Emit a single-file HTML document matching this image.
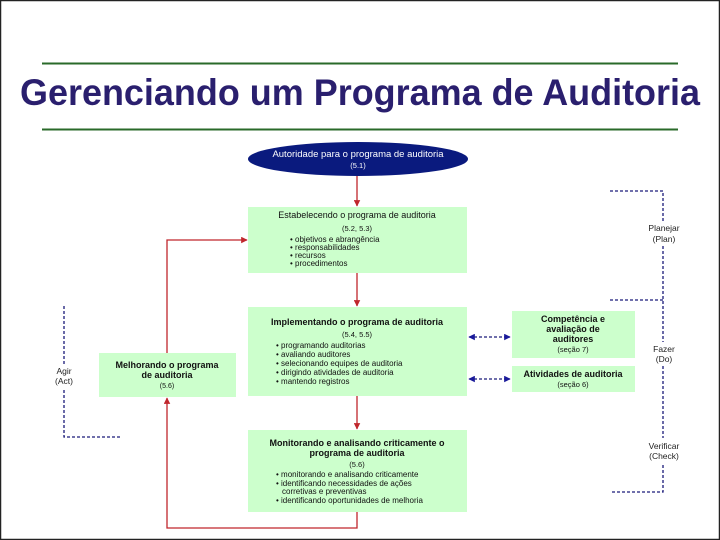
<!DOCTYPE html>
<html><head><meta charset="utf-8"><style>
html,body{margin:0;padding:0;background:#fff}
svg{display:block}
text{font-family:"Liberation Sans",Arial,sans-serif}
</style></head><body>
<svg width="720" height="540" viewBox="0 0 720 540" xmlns="http://www.w3.org/2000/svg">
<defs>
<marker id="ra" viewBox="0 0 10 10" refX="9" refY="5" markerWidth="5" markerHeight="5" orient="auto"><path d="M0,0L10,5L0,10z" fill="#c0262c"/></marker>
<marker id="ba" viewBox="0 0 10 10" refX="9" refY="5" markerWidth="5" markerHeight="5" orient="auto-start-reverse"><path d="M0,0L10,5L0,10z" fill="#1a1a9a"/></marker>
</defs>
<rect x="0.5" y="0.5" width="719" height="539" fill="#fff" stroke="#222" stroke-width="1.5"/>
<line x1="42" y1="63.5" x2="678" y2="63.5" stroke="#2a6a2a" stroke-width="2"/>
<line x1="42" y1="129.5" x2="678" y2="129.5" stroke="#2a6a2a" stroke-width="2"/>
<text x="20" y="105" font-size="37" font-weight="bold" fill="#2a1f6e" textLength="680" lengthAdjust="spacingAndGlyphs">Gerenciando um Programa de Auditoria</text>

<ellipse cx="358" cy="159" rx="110" ry="17" fill="#0a1a7e"/>
<text x="358" y="157" font-size="9.5" fill="#fff" text-anchor="middle">Autoridade para o programa de auditoria</text>
<text x="358" y="168" font-size="7.5" fill="#fff" text-anchor="middle">(5.1)</text>

<g stroke="#c0262c" stroke-width="1.3" fill="none">
<line x1="357" y1="176" x2="357" y2="206" marker-end="url(#ra)"/>
<line x1="357" y1="273" x2="357" y2="306" marker-end="url(#ra)"/>
<line x1="357" y1="396" x2="357" y2="429" marker-end="url(#ra)"/>
<polyline points="357,512 357,528 167,528 167,398" marker-end="url(#ra)"/>
<polyline points="167,353 167,240 247,240" marker-end="url(#ra)"/>
</g>

<g fill="#ccffcc">
<rect x="248" y="207" width="219" height="66"/>
<rect x="248" y="307" width="219" height="89"/>
<rect x="512" y="311" width="123" height="47"/>
<rect x="512" y="366" width="123" height="26"/>
<rect x="99" y="353" width="137" height="44"/>
<rect x="248" y="430" width="219" height="82"/>
</g>

<g font-size="9" fill="#111">
<text x="357" y="218" text-anchor="middle">Estabelecendo o programa de auditoria</text>
<text x="357" y="231" text-anchor="middle" font-size="7.5">(5.2, 5.3)</text>
<g font-size="8">
<text x="290" y="242">• objetivos e abrangência</text>
<text x="290" y="250">• responsabilidades</text>
<text x="290" y="258">• recursos</text>
<text x="290" y="266">• procedimentos</text>
</g>

<text x="357" y="325" text-anchor="middle" font-weight="bold">Implementando o programa de auditoria</text>
<text x="357" y="337" text-anchor="middle" font-size="7.5">(5.4, 5.5)</text>
<g font-size="8">
<text x="276" y="348">• programando auditorias</text>
<text x="276" y="357">• avaliando auditores</text>
<text x="276" y="366">• selecionando equipes de auditoria</text>
<text x="276" y="375">• dirigindo atividades de auditoria</text>
<text x="276" y="384">• mantendo registros</text>
</g>

<text x="573" y="322" text-anchor="middle" font-weight="bold">Competência e</text>
<text x="573" y="332" text-anchor="middle" font-weight="bold">avaliação de</text>
<text x="573" y="342" text-anchor="middle" font-weight="bold">auditores</text>
<text x="573" y="352" text-anchor="middle" font-size="7.5">(seção 7)</text>

<text x="573" y="377" text-anchor="middle" font-weight="bold">Atividades de auditoria</text>
<text x="573" y="387" text-anchor="middle" font-size="7.5">(seção 6)</text>

<text x="167" y="368" text-anchor="middle" font-weight="bold">Melhorando o programa</text>
<text x="167" y="378" text-anchor="middle" font-weight="bold">de auditoria</text>
<text x="167" y="388" text-anchor="middle" font-size="7">(5.6)</text>

<text x="357" y="446" text-anchor="middle" font-weight="bold">Monitorando e analisando criticamente o</text>
<text x="357" y="456" text-anchor="middle" font-weight="bold">programa de auditoria</text>
<text x="357" y="467" text-anchor="middle" font-size="7.5">(5.6)</text>
<g font-size="8">
<text x="276" y="477">• monitorando e analisando criticamente</text>
<text x="276" y="486">• identificando necessidades de ações</text>
<text x="282" y="494">corretivas e preventivas</text>
<text x="276" y="503">• identificando oportunidades de melhoria</text>
</g>

<g font-size="8.5" text-anchor="middle" fill="#222">
<text x="664" y="231">Planejar</text>
<text x="664" y="242">(Plan)</text>
<text x="664" y="352">Fazer</text>
<text x="664" y="362">(Do)</text>
<text x="664" y="449">Verificar</text>
<text x="664" y="459">(Check)</text>
<text x="64" y="374">Agir</text>
<text x="64" y="384">(Act)</text>
</g>
</g>

<g stroke="#1a1a7a" stroke-width="1.3" fill="none" stroke-dasharray="3,2">
<polyline points="610,191 663,191 663,222"/>
<line x1="663" y1="246" x2="663" y2="342"/>
<line x1="610" y1="300" x2="663" y2="300"/>
<line x1="663" y1="366" x2="663" y2="438"/>
<polyline points="663,465 663,492 610,492"/>
<line x1="64" y1="306" x2="64" y2="364"/>
<polyline points="64,390 64,437 120,437"/>
<line x1="469" y1="337" x2="510" y2="337" marker-start="url(#ba)" marker-end="url(#ba)"/>
<line x1="469" y1="379" x2="510" y2="379" marker-start="url(#ba)" marker-end="url(#ba)"/>
</g>
</svg>
</body></html>
